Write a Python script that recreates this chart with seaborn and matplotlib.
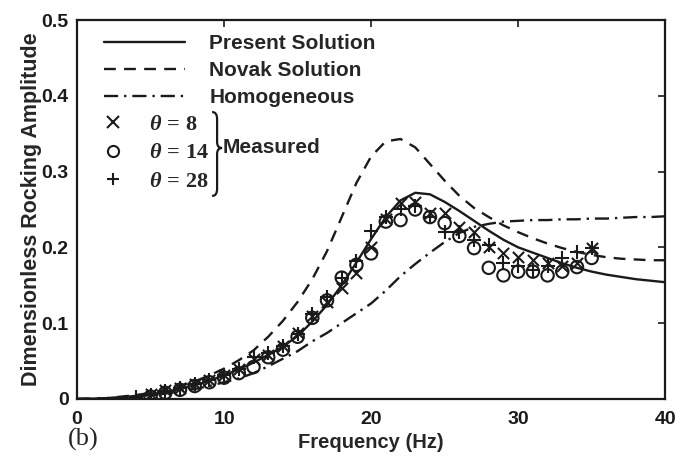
import numpy as np
import pandas as pd
import matplotlib
matplotlib.use("Agg")
import matplotlib.pyplot as plt
import seaborn as sns
from matplotlib.lines import Line2D
from matplotlib.path import Path
from matplotlib.patches import PathPatch

# ---------------- data ----------------
freq_curve = list(range(0, 41))
present = [0.0, 0.0003, 0.001, 0.002, 0.004, 0.006, 0.009, 0.013, 0.018, 0.024,
           0.031, 0.039, 0.048, 0.058, 0.069, 0.083, 0.102, 0.124, 0.150, 0.180,
           0.211, 0.240, 0.262, 0.272, 0.270, 0.260, 0.248, 0.235, 0.222, 0.210,
           0.200, 0.193, 0.186, 0.179, 0.173, 0.168, 0.164, 0.161, 0.158, 0.156, 0.154]
novak = [0.0, 0.0003, 0.001, 0.003, 0.005, 0.008, 0.012, 0.017, 0.023, 0.031,
         0.040, 0.051, 0.064, 0.082, 0.103, 0.128, 0.158, 0.195, 0.240, 0.285,
         0.320, 0.340, 0.343, 0.332, 0.310, 0.288, 0.268, 0.252, 0.240, 0.229,
         0.220, 0.212, 0.205, 0.199, 0.194, 0.190, 0.187, 0.185, 0.184, 0.183, 0.183]
homogeneous = [0.0, 0.0002, 0.0008, 0.002, 0.003, 0.005, 0.007, 0.010, 0.013, 0.017,
               0.022, 0.027, 0.034, 0.043, 0.053, 0.063, 0.076, 0.087, 0.100, 0.113,
               0.126, 0.143, 0.162, 0.178, 0.193, 0.207, 0.219, 0.227, 0.231, 0.234,
               0.235, 0.236, 0.236, 0.237, 0.237, 0.238, 0.238, 0.239, 0.240, 0.240, 0.241]

freq_t8 = list(range(5, 36))
amp_t8 = [0.006, 0.012, 0.015, 0.019, 0.025, 0.032, 0.040, 0.052, 0.058, 0.070,
          0.087, 0.110, 0.128, 0.147, 0.166, 0.200, 0.237, 0.258, 0.260, 0.245,
          0.245, 0.227, 0.220, 0.200, 0.192, 0.187, 0.183, 0.179, 0.175, 0.180, 0.199]
freq_t14 = list(range(5, 36))
amp_t14 = [0.003, 0.008, 0.012, 0.017, 0.022, 0.028, 0.034, 0.042, 0.055, 0.065,
           0.082, 0.107, 0.130, 0.160, 0.177, 0.192, 0.234, 0.236, 0.250, 0.240,
           0.232, 0.215, 0.199, 0.173, 0.163, 0.168, 0.168, 0.163, 0.168, 0.174, 0.186]
freq_t28 = list(range(4, 36))
amp_t28 = [0.002, 0.005, 0.010, 0.014, 0.019, 0.025, 0.032, 0.040, 0.055, 0.060,
           0.070, 0.085, 0.112, 0.135, 0.160, 0.182, 0.222, 0.240, 0.250, 0.255,
           0.240, 0.220, 0.220, 0.210, 0.203, 0.180, 0.175, 0.170, 0.175, 0.186,
           0.194, 0.199]

x_ticks = [0, 10, 20, 30, 40]
y_ticks = [0, 0.1, 0.2, 0.3, 0.4, 0.5]
y_tick_labels = ["0", "0.1", "0.2", "0.3", "0.4", "0.5"]
curve_labels = ["Present Solution", "Novak Solution", "Homogeneous"]
measured_labels = [r"$\mathbfit{\theta}\,\mathbf{=}\,\mathbf{8}$",
                   r"$\mathbfit{\theta}\,\mathbf{=}\,\mathbf{14}$",
                   r"$\mathbfit{\theta}\,\mathbf{=}\,\mathbf{28}$"]

# ---------------- style ----------------
sns.set_theme(style="white")
plt.rcParams["font.family"] = ["Liberation Sans", "DejaVu Sans"]
plt.rcParams["mathtext.fontset"] = "custom"
plt.rcParams["mathtext.rm"] = "Liberation Serif"
plt.rcParams["mathtext.it"] = "Liberation Serif:italic"
plt.rcParams["mathtext.bf"] = "Liberation Serif:bold"
plt.rcParams["mathtext.bfit"] = "Liberation Serif:italic:bold"

fig = plt.figure(figsize=(6.76, 4.66), dpi=100)
ax = fig.add_axes([0.114, 0.144, 0.870, 0.813])

LW = 1.7
ls_dash = (0, (5, 3.5))
ls_dashdot = (0, (6, 2.5, 1, 2.5))

sns.lineplot(x=freq_curve, y=present, color="k", lw=LW, ax=ax)
sns.lineplot(x=freq_curve, y=novak, color="k", lw=LW, linestyle=ls_dash, ax=ax)
sns.lineplot(x=freq_curve, y=homogeneous, color="k", lw=LW, linestyle=ls_dashdot, ax=ax)

sns.scatterplot(x=freq_t8, y=amp_t8, marker="x", s=65, color="k", linewidth=1.5, ax=ax, zorder=3)
sns.scatterplot(x=freq_t14, y=amp_t14, marker="o", s=80, facecolor="none", edgecolor="k",
                linewidth=1.5, ax=ax, zorder=3)
sns.scatterplot(x=freq_t28, y=amp_t28, marker="+", s=90, color="k", linewidth=1.5, ax=ax, zorder=3)

ax.set_xlim(0, 40)
ax.set_ylim(0, 0.5)
ax.set_xticks(x_ticks)
ax.set_xticklabels([str(t) for t in x_ticks])
ax.set_yticks(y_ticks)
ax.set_yticklabels(y_tick_labels)
ax.tick_params(direction="in", top=True, right=True, length=5, width=1.2,
               labelsize=14, colors="k")
ax.tick_params(axis="x", pad=9)
ax.tick_params(axis="y", pad=6)
for lab in ax.get_xticklabels() + ax.get_yticklabels():
    lab.set_fontweight("bold")
for s in ax.spines.values():
    s.set_color("k")
    s.set_linewidth(1.6)

ax.set_xlabel("Frequency (Hz)", fontsize=14.5, fontweight="bold", labelpad=3)
ax.set_ylabel("Dimensionless Rocking Amplitude", fontsize=15.5, fontweight="bold", labelpad=0)

# legend for curves
line_handles = [Line2D([], [], color="k", lw=LW, linestyle="-"),
                Line2D([], [], color="k", lw=LW, linestyle=ls_dash),
                Line2D([], [], color="k", lw=LW, linestyle=ls_dashdot)]
leg1 = ax.legend(line_handles, curve_labels, loc="upper left", bbox_to_anchor=(0.046, 0.962),
                 frameon=False, prop={"size": 15, "weight": "bold"}, handlelength=3.9,
                 handletextpad=1.15, labelspacing=0.38, borderaxespad=0, borderpad=0)
ax.add_artist(leg1)

mk_handles = [Line2D([], [], color="k", marker="x", ls="none", ms=8, mew=1.5),
              Line2D([], [], color="k", marker="o", mfc="none", ls="none", ms=8, mew=1.5),
              Line2D([], [], color="k", marker="+", ls="none", ms=9, mew=1.5)]
leg2 = ax.legend(mk_handles, measured_labels, loc="upper left", bbox_to_anchor=(0.046, 0.752),
                 frameon=False, fontsize=16, handlelength=0.8, handletextpad=1.2,
                 labelspacing=0.33, borderaxespad=0, borderpad=0)


def px2ax(px, py):
    return ((px - 77) / 588.0, 1 - (py - 20) / 379.0)


verts = [px2ax(212, 112), px2ax(217, 112), px2ax(217, 119),
         px2ax(217, 142),
         px2ax(217, 148), px2ax(222, 148),
         px2ax(217, 148), px2ax(217, 154),
         px2ax(217, 189),
         px2ax(217, 196), px2ax(212, 196)]
codes = [Path.MOVETO, Path.CURVE3, Path.CURVE3, Path.LINETO,
         Path.CURVE3, Path.CURVE3, Path.CURVE3, Path.CURVE3,
         Path.LINETO, Path.CURVE3, Path.CURVE3]
brace = PathPatch(Path(verts, codes), transform=ax.transAxes, fill=False,
                  edgecolor="k", lw=1.6, clip_on=False)
ax.add_patch(brace)
mx, my = px2ax(223, 148)
ax.text(mx, my, "Measured", transform=ax.transAxes, fontsize=15, fontweight="bold",
        va="center", ha="left")

fig.text(0.100, 0.058, "(b)", family="Liberation Serif", fontsize=19, ha="left", va="center")

fig.savefig("out.png", dpi=100)
